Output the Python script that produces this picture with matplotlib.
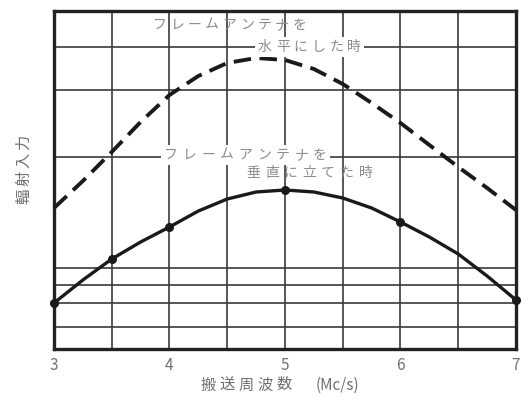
# -*- coding: utf-8 -*-
# 搬送周波数と輻射入力 (フレームアンテナの向きによる比較)
import matplotlib
matplotlib.use('Agg')
import matplotlib.pyplot as plt

plt.rcParams['font.family'] = ['Noto Sans CJK JP', 'DejaVu Sans']

# ── データ (図から読み取り, 縦軸は任意単位) ─────────────────────────
freq_curve = [3.0, 3.25, 3.5, 3.75, 4.0, 4.25, 4.5, 4.75, 5.0, 5.25, 5.5, 5.75, 6.0, 6.25, 6.5, 6.75, 7.0]
horiz_curve = [141, 168, 197, 227, 254, 273, 286, 291, 289, 280, 265, 246, 226, 204, 182, 161, 139]
vert_curve = [46, 69, 90, 107, 122, 138, 150, 157, 159, 157, 151, 141, 127, 112, 95, 73, 49]

freq_pts = [3.0, 3.5, 4.0, 5.0, 6.0, 7.0]
vert_pts = [46, 90, 122, 159, 127, 49]

x_grid = [3.0, 3.5, 4.0, 4.5, 5.0, 5.5, 6.0, 6.5, 7.0]
x_ticks = [3, 4, 5, 6, 7]
x_ticklabels = ['3', '4', '5', '6', '7']
y_grid = [0, 22, 46, 64, 81, 192, 259, 302, 338]

W, H = 522, 398
fig = plt.figure(figsize=(W / 100, H / 100), dpi=100)
ax = fig.add_axes([0.1034, 0.1231, 0.8851, 0.8493])

ax.set_xlim(3, 7)
ax.set_ylim(0, 338)


def spaced(s, x0, y, step, rot=0, white=False, **kw):
    """1文字ずつ間隔をあけて配置 (座標はピクセル, 上が0)"""
    for i, ch in enumerate(s):
        if rot:
            px, py = x0, y - i * step
        else:
            px, py = x0 + i * step, y
        box = dict(facecolor='white', edgecolor='none', pad=2.0) if white else None
        fig.text(px / W, 1 - py / H, ch, ha='center', va='center',
                 rotation=rot, bbox=box, **kw)


# 方眼
for gx in x_grid:
    ax.axvline(gx, color='#3a3a3a', linewidth=1.2, zorder=1)
for gy in y_grid:
    ax.axhline(gy, color='#3a3a3a', linewidth=1.2, zorder=1)

# 曲線
ax.plot(freq_curve, horiz_curve, color='#1a1a1a', linewidth=2.8,
        dashes=(4.5, 2.2), zorder=3, clip_on=False)
ax.plot(freq_curve, vert_curve, color='#1a1a1a', linewidth=2.4, zorder=3, clip_on=False)
ax.plot(freq_pts, vert_pts, 'o', color='#1a1a1a', markersize=5.5, zorder=4, clip_on=False)

# 注記
note = dict(color='#8c8c8c', fontsize=10)
spaced('フレームアンテナを', 160, 25, 17.4, **note)
spaced('水平にした時', 265, 47, 17.8, white=True, **note)
spaced('フレームアンテナを', 171, 155, 18.6, white=True, **note)
spaced('垂直に立てた時', 253, 173, 18.8, **note)

ax.set_xticks(x_ticks)
ax.set_xticklabels(x_ticklabels)
ax.set_yticks([])
ax.tick_params(axis='x', length=0, pad=6, labelsize=11, labelcolor='#707070')

# 軸ラベル
axis_lbl = dict(color='#707070', fontsize=11)
spaced('輻射入力', 24, 196, 18, rot=90, **axis_lbl)
spaced('搬送周波数', 208, 385, 19, **axis_lbl)
fig.text(337 / W, 1 - 385 / H, '(Mc/s)', ha='center', va='center', **axis_lbl)

for sp in ax.spines.values():
    sp.set_linewidth(2.4)
    sp.set_color('#222222')

fig.savefig('out.png', dpi=100)
